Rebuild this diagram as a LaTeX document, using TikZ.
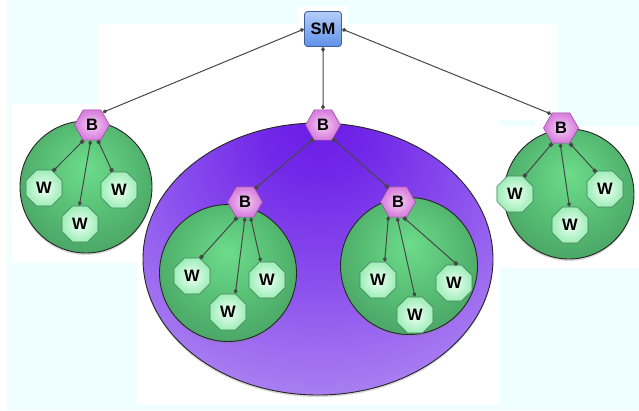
\documentclass[tikz,border=0pt]{standalone}
\usepackage{fontspec}
\setmainfont{Liberation Sans}
\usetikzlibrary{shapes.geometric,arrows.meta,shadows}

\definecolor{PageBack}{HTML}{EFFFFF}
\definecolor{EdgeGray}{HTML}{474747}
\definecolor{ManagerTop}{HTML}{B4CEF8}
\definecolor{ManagerBottom}{HTML}{5F90E8}
\definecolor{ManagerLine}{HTML}{3E5E96}
\definecolor{BrokerA}{HTML}{F6D0F4}
\definecolor{BrokerB}{HTML}{DC8AE1}
\definecolor{BrokerC}{HTML}{CA58D2}
\definecolor{BrokerLine}{HTML}{9C4CA2}
\definecolor{WorkerA}{HTML}{F0FFF4}
\definecolor{WorkerB}{HTML}{A8F0C0}
\definecolor{WorkerC}{HTML}{74DE98}
\definecolor{WorkerLine}{HTML}{3F7D55}
\definecolor{GreenA}{HTML}{6DDC8B}
\definecolor{GreenB}{HTML}{58BF75}
\definecolor{GreenC}{HTML}{42955B}
\definecolor{GreenD}{HTML}{3A844F}
\definecolor{PoolA}{HTML}{6A1AE6}
\definecolor{PoolB}{HTML}{7229E8}
\definecolor{PoolC}{HTML}{8A4EED}
\definecolor{PoolD}{HTML}{AE86F2}
\definecolor{PoolE}{HTML}{CDB1F7}

\pgfdeclareradialshading{BrokerShade}{\pgfpoint{0bp}{0bp}}{color(0bp)=(BrokerA); color(20bp)=(BrokerB); color(40bp)=(BrokerC); color(50bp)=(BrokerC)}
\pgfdeclareradialshading{WorkerShade}{\pgfpoint{0bp}{0bp}}{color(0bp)=(WorkerA); color(22bp)=(WorkerB); color(45bp)=(WorkerC); color(50bp)=(WorkerC)}
\pgfdeclareradialshading{GreenShade}{\pgfpoint{0bp}{8bp}}{color(0bp)=(GreenA); color(16bp)=(GreenB); color(38bp)=(GreenC); color(50bp)=(GreenD)}
\pgfdeclareradialshading{PoolShade}{\pgfpoint{0bp}{27bp}}{color(0bp)=(PoolA); color(8bp)=(PoolB); color(20bp)=(PoolC); color(36bp)=(PoolD); color(50bp)=(PoolE)}

\tikzset{
  LabelFont/.style={font=\fontsize{16.5}{16.5}\selectfont\bfseries},
  ManagerStyle/.style={rectangle, rounded corners=3pt, draw=ManagerLine, line width=0.8pt,
    top color=ManagerTop, bottom color=ManagerBottom, minimum width=37pt, minimum height=35pt,
    inner sep=0pt, LabelFont},
  BrokerStyle/.style={regular polygon, regular polygon sides=6, minimum size=35pt, inner sep=0pt,
    draw=BrokerLine, line width=0.6pt, shade, shading=BrokerShade, LabelFont},
  WorkerStyle/.style={regular polygon, regular polygon sides=8, minimum size=39pt, inner sep=0pt,
    draw=WorkerLine, line width=0.6pt, shade, shading=WorkerShade, LabelFont},
  PoolStyle/.style={circle, inner sep=0pt, draw=black!85, line width=0.9pt, shade, shading=GreenShade,
    drop shadow={opacity=0.3, shadow xshift=0pt, shadow yshift=-2pt}},
  FarmStyle/.style={ellipse, inner sep=0pt, draw=black!85, line width=0.9pt, shade, shading=PoolShade,
    minimum width=350pt, minimum height=272pt,
    drop shadow={opacity=0.3, shadow xshift=0pt, shadow yshift=-2pt}},
  EdgeStyle/.style={draw=EdgeGray, line width=1pt,
    arrows={Square[length=3.5pt,width=3.5pt]-Square[length=3.5pt,width=3.5pt]}},
  PeerStyle/.style={draw=EdgeGray, line width=1pt,
    arrows={Diamond[length=5pt,width=4pt]-Diamond[length=5pt,width=4pt]}}
}

\begin{document}
\begin{tikzpicture}[x=1pt, y=-1pt]
\useasboundingbox (0,0) rectangle (639,410);
\fill[PageBack] (0,0) rectangle (639,410);
\fill[white] (0,0) rectangle (7,410);
\fill[white] (298,6) rectangle (348,24);
\fill[white] (97,24) rectangle (558,120);
\fill[white] (535,120) rectangle (558,126);
\fill[white] (12,104) rectangle (137,263);
\fill[white] (137,104) rectangle (500,405);
\fill[white] (500,126) rectangle (639,268);

\node[FarmStyle] (farm) at (318,259) {};
\node[PoolStyle, minimum size=132pt] (lpool) at (86,187) {};
\node[PoolStyle, minimum size=130pt] (rpool) at (569,194) {};
\node[PoolStyle, minimum size=137pt] (ilpool) at (228,273) {};
\node[PoolStyle, minimum size=137pt] (irpool) at (409,266) {};

\node[ManagerStyle] (sm) at (323,29) {SM};
\node[BrokerStyle] (lb) at (92,125) {B};
\node[BrokerStyle] (cb) at (323,125) {B};
\node[BrokerStyle] (rb) at (561,128) {B};
\node[BrokerStyle] (ilb) at (245,202) {B};
\node[BrokerStyle] (irb) at (398,202) {B};

\node[WorkerStyle] (lw1) at (44,188) {W};
\node[WorkerStyle] (lw2) at (80,224) {W};
\node[WorkerStyle] (lw3) at (119,190) {W};
\node[WorkerStyle] (rw1) at (515,194) {W};
\node[WorkerStyle] (rw2) at (570,225) {W};
\node[WorkerStyle] (rw3) at (605,189) {W};
\node[WorkerStyle] (ilw1) at (192,276) {W};
\node[WorkerStyle] (ilw2) at (228,312) {W};
\node[WorkerStyle] (ilw3) at (267,280) {W};
\node[WorkerStyle] (irw1) at (378,280) {W};
\node[WorkerStyle] (irw2) at (415,315) {W};
\node[WorkerStyle] (irw3) at (454,283) {W};

\draw[PeerStyle] (sm.west) -- (lb.50);
\draw[PeerStyle] (sm.south) -- (cb.north);
\draw[PeerStyle] (sm.east) -- (rb.125);
\draw[EdgeStyle] (cb.-124) -- (ilb.53);
\draw[EdgeStyle] (cb.-54) -- (irb.124);
\draw[EdgeStyle] (lb.-119) -- (lw1.62);
\draw[PeerStyle] (lb.-95) -- (lw2.92);
\draw[EdgeStyle] (lb.-69) -- (lw3.110);
\draw[EdgeStyle] (rb.-120) -- (rw1.63);
\draw[PeerStyle] (rb.-93) -- (rw2.92);
\draw[EdgeStyle] (rb.-60) -- (rw3.118);
\draw[EdgeStyle] (ilb.-117) -- (ilw1.65);
\draw[PeerStyle] (ilb.-90) -- (ilw2.68);
\draw[PeerStyle] (ilb.-70) -- (ilw3.109);
\draw[PeerStyle] (irb.-124) -- (irw1.70);
\draw[PeerStyle] (irb.-93) -- (irw2.90);
\draw[EdgeStyle] (irb.-70) -- (irw3.80);
\end{tikzpicture}
\end{document}
